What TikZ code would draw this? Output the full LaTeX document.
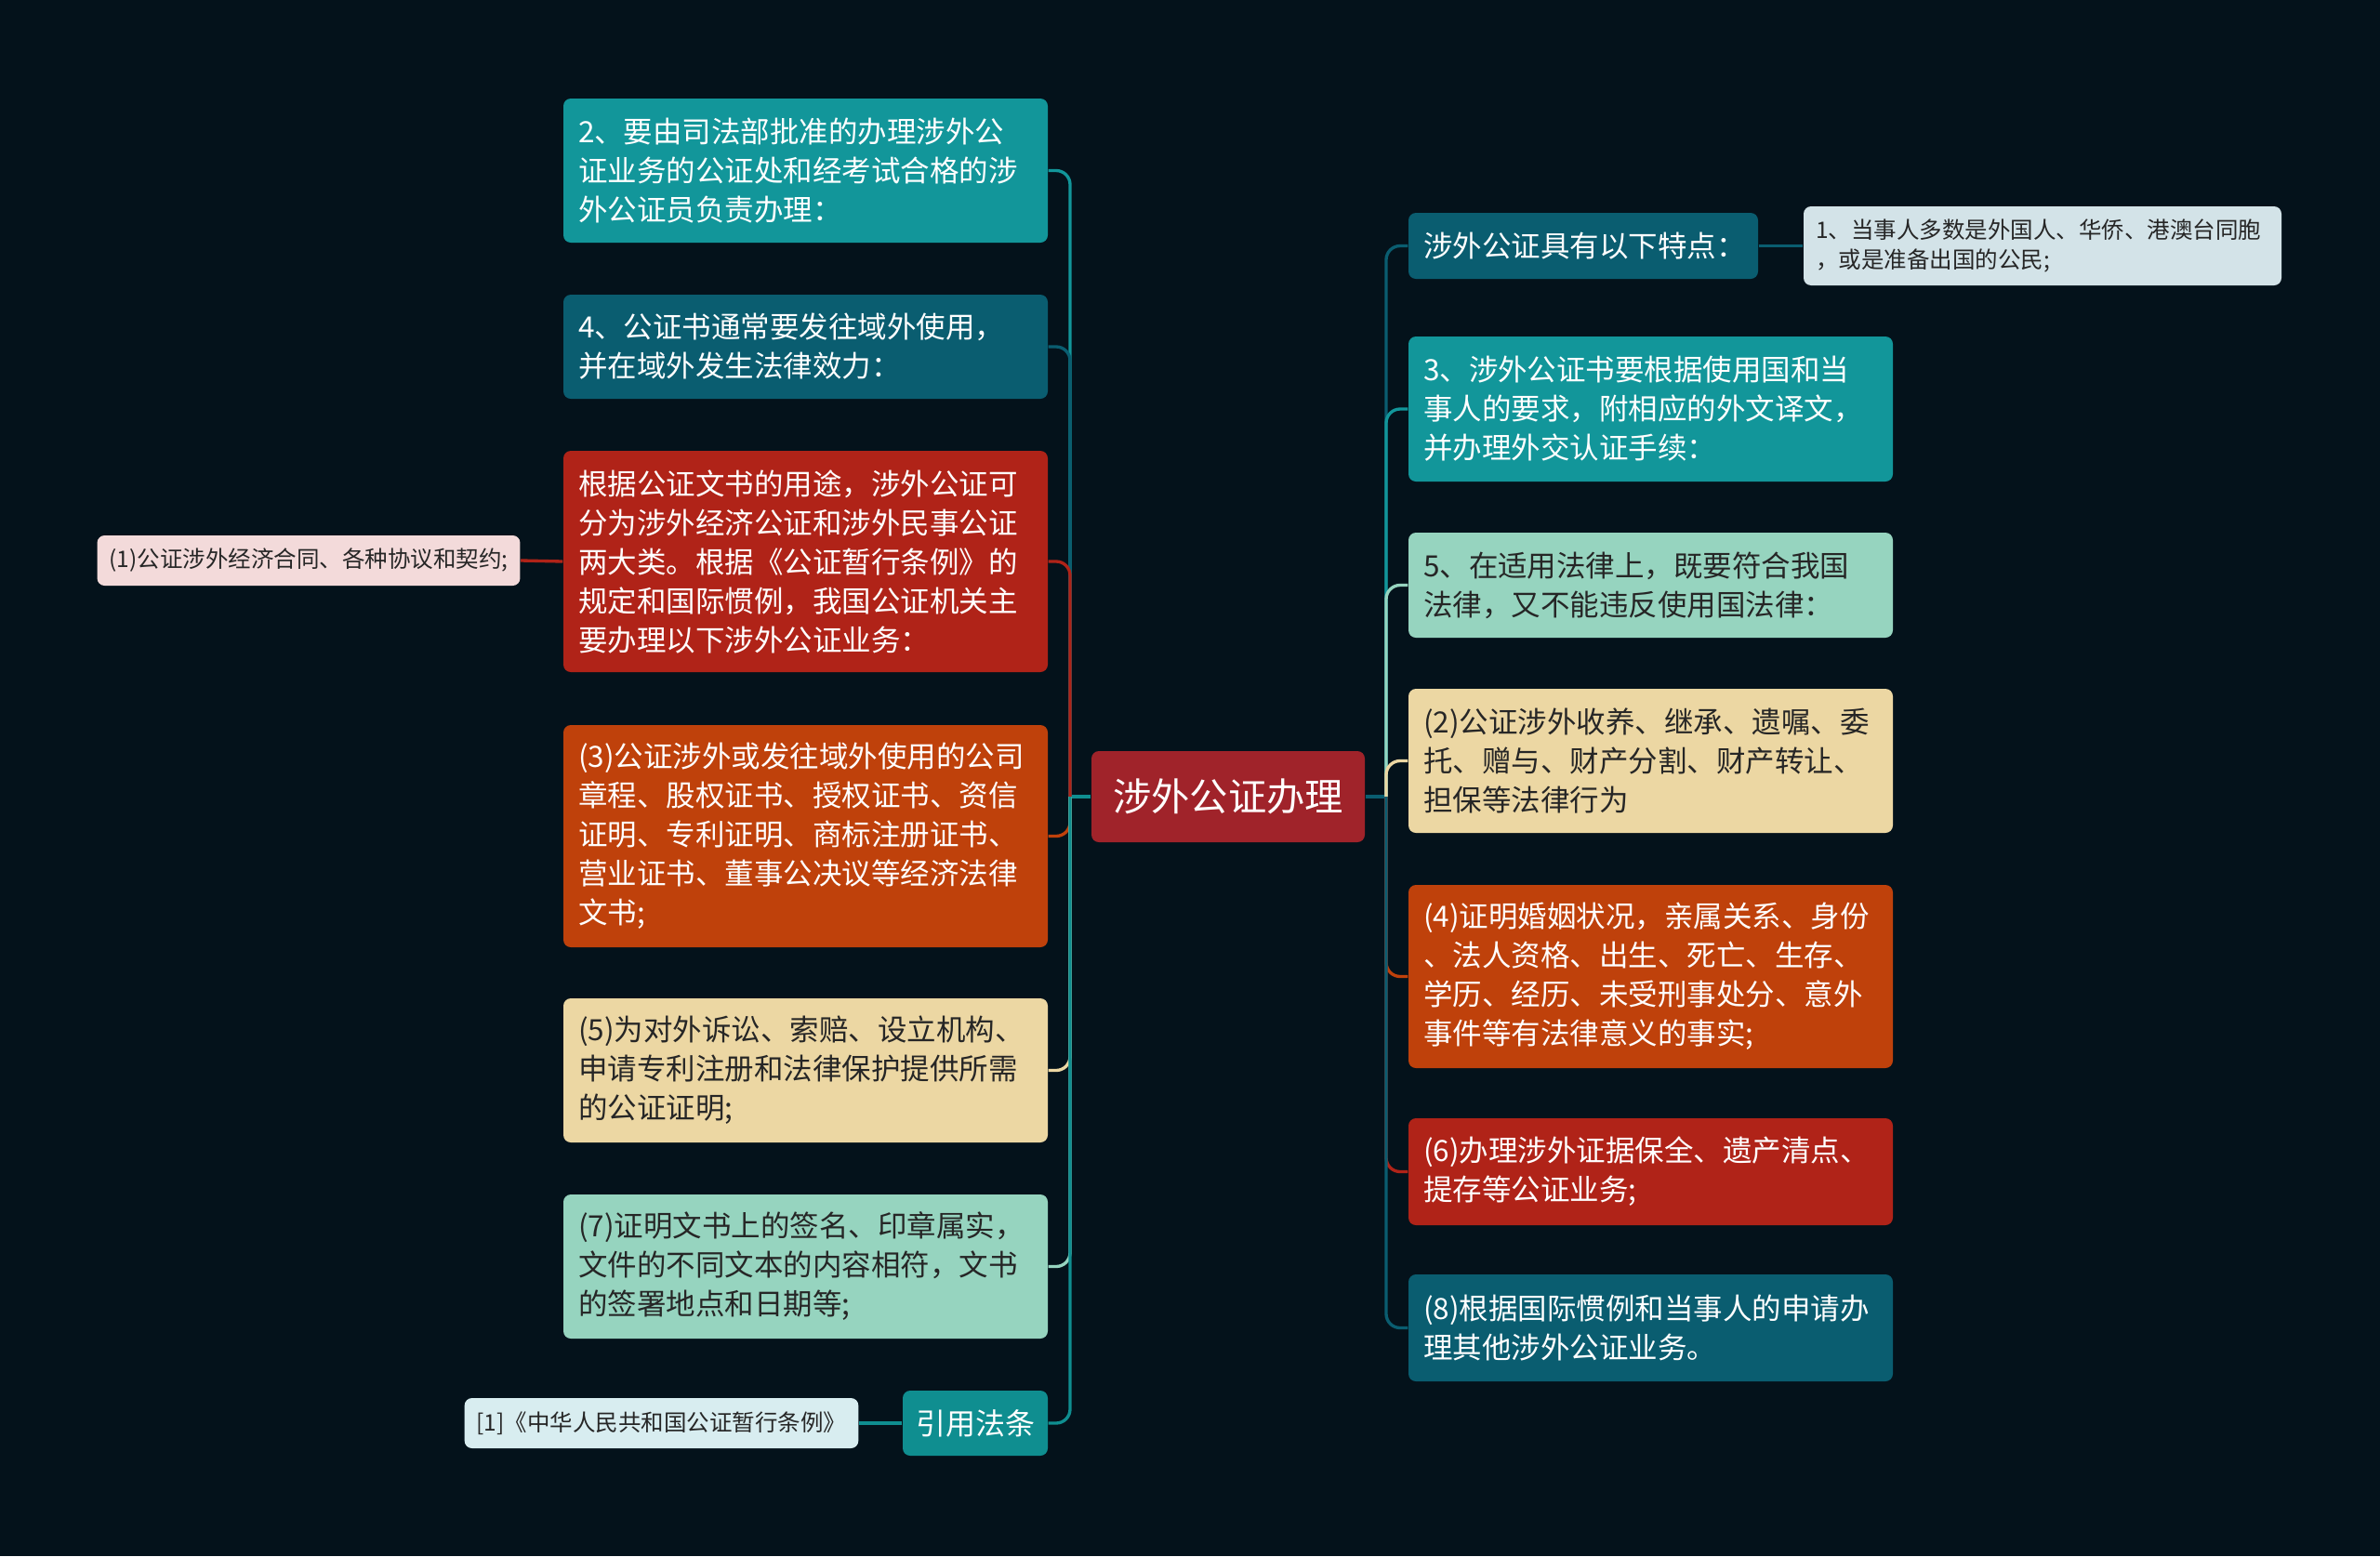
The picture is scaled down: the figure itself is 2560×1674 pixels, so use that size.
\documentclass[tikz,border=0pt]{standalone}
\usepackage{fontspec}
\setmainfont{Noto Sans CJK SC}
\usetikzlibrary{backgrounds}
\definecolor{bg}{HTML}{04121B}
\definecolor{cTeal}{HTML}{12969A}
\definecolor{cDark}{HTML}{0A5D70}
\definecolor{cRed}{HTML}{B02318}
\definecolor{cOrange}{HTML}{BF410B}
\definecolor{cCream}{HTML}{ECD7A3}
\definecolor{cMint}{HTML}{96D4BF}
\definecolor{cCenter}{HTML}{A0232A}
\definecolor{cCite}{HTML}{0F8E90}
\definecolor{cPink}{HTML}{F3DADA}
\definecolor{cIce}{HTML}{D8EDF0}
\definecolor{cGrey}{HTML}{D3E3E8}
\definecolor{cInk}{HTML}{262626}
\begin{document}
\begin{tikzpicture}[x=0.3pt,y=-0.3pt,
  box/.style={rounded corners=2.4pt, inner xsep=4.8pt, inner ysep=1pt, align=left,
    text width=146.7pt, font={\fontsize{9.45}{12.6}\selectfont}},
  leaf/.style={rounded corners=2.4pt, inner xsep=3.9pt, inner ysep=1pt, align=center,
    text=cInk, minimum height=16.2pt, font={\fontsize{7.35}{9.8}\selectfont}},
  conn/.style={line width=1pt, rounded corners=4.5pt}]
\useasboundingbox (0,0) rectangle (2560,1674);

% central node
\node[rounded corners=2.4pt, fill=cCenter, text=white, minimum width=88.2pt, minimum height=29.4pt,
  font={\fontsize{12.4}{15}\selectfont}] (C) at (1321,857) {涉外公证办理};

% left branch
\node[box, fill=cTeal, text=white, minimum height=46.5pt] (L2) at (866.5,183.5)
  {2、要由司法部批准的办理涉外公\\证业务的公证处和经考试合格的涉\\外公证员负责办理：};
\node[box, fill=cDark, text=white, minimum height=33.6pt] (L4) at (866.5,373)
  {4、公证书通常要发往域外使用，\\并在域外发生法律效力：};
\node[box, fill=cRed, text=white, minimum height=71.4pt] (LR) at (866.5,604)
  {根据公证文书的用途，涉外公证可\\分为涉外经济公证和涉外民事公证\\两大类。根据《公证暂行条例》的\\规定和国际惯例，我国公证机关主\\要办理以下涉外公证业务：};
\node[box, fill=cOrange, text=white, minimum height=71.7pt] (L3) at (866.5,899.5)
  {(3)公证涉外或发往域外使用的公司\\章程、股权证书、授权证书、资信\\证明、专利证明、商标注册证书、\\营业证书、董事公决议等经济法律\\文书;};
\node[box, fill=cCream, text=cInk, minimum height=46.5pt] (L5) at (866.5,1151.5)
  {(5)为对外诉讼、索赔、设立机构、\\申请专利注册和法律保护提供所需\\的公证证明;};
\node[box, fill=cMint, text=cInk, minimum height=46.5pt] (L7) at (866.5,1362.5)
  {(7)证明文书上的签名、印章属实，\\文件的不同文本的内容相符，文书\\的签署地点和日期等;};
\node[rounded corners=2.4pt, fill=cCite, text=white, minimum width=46.8pt, minimum height=21pt,
  inner xsep=2pt, font={\fontsize{9.6}{12}\selectfont}] (CT) at (1049,1531) {引用法条};

\node[leaf, fill=cPink, minimum width=135.6pt] (LL1) at (332,603)
  {(1)公证涉外经济合同、各种协议和契约;};
\node[leaf, fill=cIce, minimum width=126.3pt] (LCT) at (711.5,1531)
  {[1]《中华人民共和国公证暂行条例》};

% right branch
\node[box, fill=cDark, text=white, text width=103.2pt, minimum height=21.3pt] (R0) at (1703,264.5)
  {涉外公证具有以下特点：};
\node[leaf, fill=cGrey, align=left, text width=146.4pt, minimum height=25.5pt] (RL1) at (2197,264.5)
  {1、当事人多数是外国人、华侨、港澳台同胞\\，或是准备出国的公民;};
\node[box, fill=cTeal, text=white, minimum height=46.8pt] (R3) at (1775.5,440)
  {3、涉外公证书要根据使用国和当\\事人的要求，附相应的外文译文，\\并办理外交认证手续：};
\node[box, fill=cMint, text=cInk, minimum height=33.9pt] (R5) at (1775.5,629.5)
  {5、在适用法律上，既要符合我国\\法律，又不能违反使用国法律：};
\node[box, fill=cCream, text=cInk, minimum height=46.5pt] (R2) at (1775.5,818.5)
  {(2)公证涉外收养、继承、遗嘱、委\\托、赠与、财产分割、财产转让、\\担保等法律行为};
\node[box, fill=cOrange, text=white, minimum height=59.1pt] (R4) at (1775.5,1050.5)
  {(4)证明婚姻状况，亲属关系、身份\\、法人资格、出生、死亡、生存、\\学历、经历、未受刑事处分、意外\\事件等有法律意义的事实;};
\node[box, fill=cRed, text=white, minimum height=34.5pt] (R6) at (1775.5,1260.5)
  {(6)办理涉外证据保全、遗产清点、\\提存等公证业务;};
\node[box, fill=cDark, text=white, minimum height=34.5pt] (R8) at (1775.5,1428.5)
  {(8)根据国际惯例和当事人的申请办\\理其他涉外公证业务。};

\coordinate (jL) at (1151,857);
\coordinate (jR) at (1491,857);

\begin{scope}[on background layer]
  \fill[bg] (0,0) rectangle (2560,1674);
  % left connectors
  \draw[conn, cCite] (C.west) -- (jL);
  \draw[conn, cTeal] (jL) |- (L2.east);
  \draw[conn, cDark] (jL) |- (L4.east);
  \draw[conn, cRed] (jL) |- (LR.east);
  \draw[conn, cOrange] (jL) |- (L3.east);
  \draw[conn, cCream] (jL) |- (L5.east);
  \draw[conn, cMint] (jL) |- (L7.east);
  \draw[conn, cCite] (jL) |- (CT.east);
  \draw[conn, cRed] (LR.west) -- (LL1.east);
  \draw[conn, cCite] (CT.west) -- (LCT.east);
  % right connectors
  \draw[conn, cDark] (C.east) -- (jR);
  \draw[conn, cDark] (jR) |- (R0.west);
  \draw[conn, cTeal] (jR) |- (R3.west);
  \draw[conn, cMint] (jR) |- (R5.west);
  \draw[conn, cCream] (jR) |- (R2.west);
  \draw[conn, cOrange] (jR) |- (R4.west);
  \draw[conn, cRed] (jR) |- (R6.west);
  \draw[conn, cDark] (jR) |- (R8.west);
  \draw[conn, cDark] (R0.east) -- (RL1.west);
\end{scope}
\end{tikzpicture}
\end{document}
